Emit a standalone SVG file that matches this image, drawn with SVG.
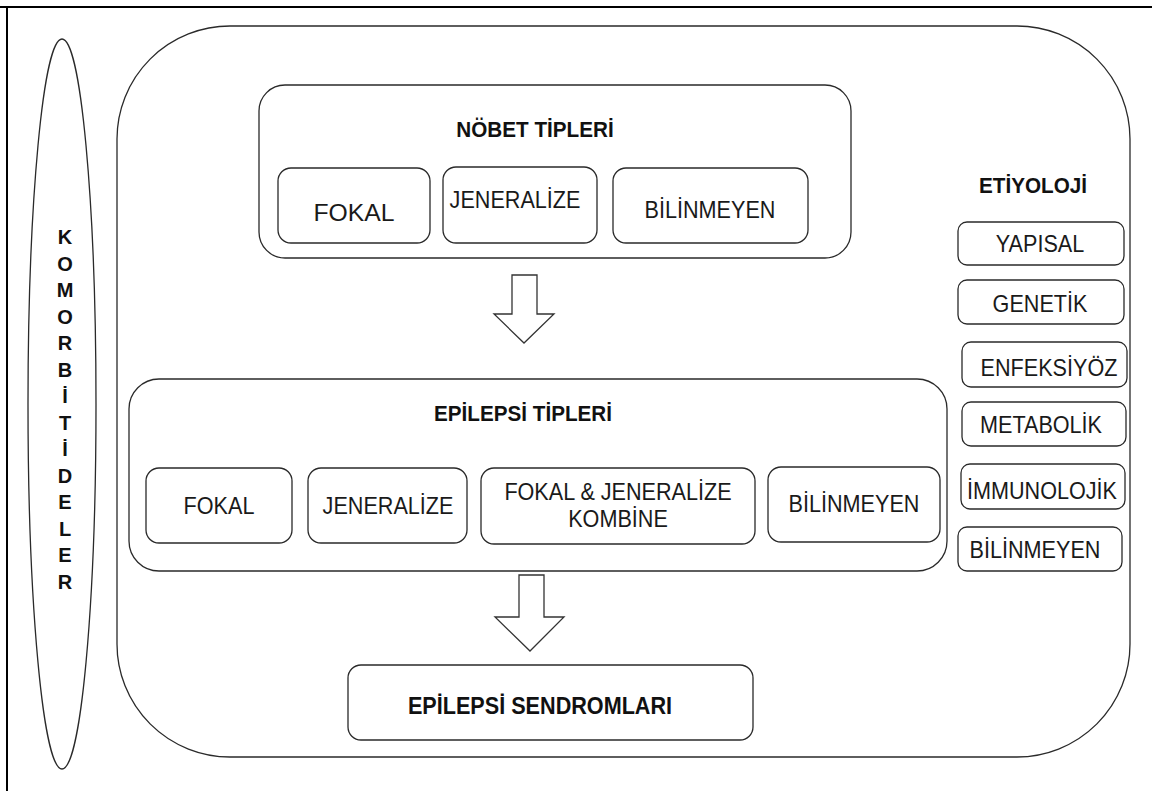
<svg xmlns="http://www.w3.org/2000/svg" width="1152" height="791" viewBox="0 0 1152 791">
<style>
  .box { fill: #fff; stroke: #2a2a2a; stroke-width: 1.3; }
  .t { font-family: "Liberation Sans", Arial, sans-serif; font-size: 24px; fill: #1a1a1a; text-anchor: middle; transform-box: fill-box; transform-origin: center; transform: scaleX(0.9); }
  .b { font-family: "Liberation Sans", Arial, sans-serif; font-weight: bold; font-size: 22px; fill: #111; text-anchor: middle; transform-box: fill-box; transform-origin: center; transform: scaleX(0.94); }
  .v { font-family: "Liberation Sans", Arial, sans-serif; font-weight: bold; font-size: 20px; fill: #111; text-anchor: middle; }
  .arrow { fill: #fff; stroke: #333; stroke-width: 1.3; }
</style>
<rect x="0" y="0" width="1152" height="791" fill="#fff"/>
<path d="M0 7 H1152 M7 7 V791" fill="none" stroke="#000" stroke-width="2"/>

<g id="komorbiditeler">
  <ellipse cx="62" cy="404" rx="34" ry="365" class="box"/>
  <text class="v" x="65" y="244">K</text>
  <text class="v" x="65" y="270.5">O</text>
  <text class="v" x="65" y="297">M</text>
  <text class="v" x="65" y="323.5">O</text>
  <text class="v" x="65" y="350">R</text>
  <text class="v" x="65" y="376.5">B</text>
  <text class="v" x="65" y="403">İ</text>
  <text class="v" x="65" y="429.5">T</text>
  <text class="v" x="65" y="456">İ</text>
  <text class="v" x="65" y="482.5">D</text>
  <text class="v" x="65" y="509">E</text>
  <text class="v" x="65" y="535.5">L</text>
  <text class="v" x="65" y="562">E</text>
  <text class="v" x="65" y="588.5">R</text>
</g>

<g id="main-frame">
  <rect x="117" y="26" width="1013" height="731" rx="113" ry="113" class="box"/>
</g>

<g id="nobet-tipleri">
  <rect x="259" y="85" width="592" height="173" rx="26" class="box"/>
  <text class="b" x="535" y="137">NÖBET TİPLERİ</text>
</g>
<g id="nobet-fokal">
  <rect x="278" y="168" width="152" height="75" rx="13" class="box"/>
  <text class="t" x="354" y="221" style="transform: scaleX(1.03)">FOKAL</text>
</g>
<g id="nobet-jeneralize">
  <rect x="443" y="167" width="154" height="76" rx="13" class="box"/>
  <text class="t" x="515" y="208">JENERALİZE</text>
</g>
<g id="nobet-bilinmeyen">
  <rect x="613" y="168" width="195" height="75" rx="13" class="box"/>
  <text class="t" x="710" y="218">BİLİNMEYEN</text>
</g>

<g id="epilepsi-tipleri">
  <rect x="129" y="379" width="818" height="192" rx="30" class="box"/>
  <text class="b" x="523" y="421">EPİLEPSİ TİPLERİ</text>
</g>
<g id="epilepsi-fokal">
  <rect x="146" y="468" width="146" height="75" rx="13" class="box"/>
  <text class="t" x="219" y="514">FOKAL</text>
</g>
<g id="epilepsi-jeneralize">
  <rect x="308" y="468" width="159" height="75" rx="13" class="box"/>
  <text class="t" x="388" y="514">JENERALİZE</text>
</g>
<g id="epilepsi-kombine">
  <rect x="481" y="468" width="274" height="76" rx="13" class="box"/>
  <text class="t" x="618" y="500">FOKAL &amp; JENERALİZE</text>
  <text class="t" x="618" y="527">KOMBİNE</text>
</g>
<g id="epilepsi-bilinmeyen">
  <rect x="768" y="467" width="172" height="75" rx="13" class="box"/>
  <text class="t" x="854" y="512">BİLİNMEYEN</text>
</g>

<g id="epilepsi-sendromlari">
  <rect x="348" y="665" width="405" height="75" rx="13" class="box"/>
  <text class="b" x="540" y="714" style="font-size:23px">EPİLEPSİ SENDROMLARI</text>
</g>

<g id="etiyoloji">
  <text class="b" x="1033" y="193">ETİYOLOJİ</text>
</g>
<g id="eti-yapisal">
  <rect x="958" y="222" width="166" height="43" rx="9" class="box"/>
  <text class="t" x="1040" y="252">YAPISAL</text>
</g>
<g id="eti-genetik">
  <rect x="958" y="280" width="166" height="44" rx="9" class="box"/>
  <text class="t" x="1040" y="312">GENETİK</text>
</g>
<g id="eti-enfeksiyoz">
  <rect x="962" y="342" width="165" height="45" rx="9" class="box"/>
  <text class="t" x="1049" y="376">ENFEKSİYÖZ</text>
</g>
<g id="eti-metabolik">
  <rect x="962" y="402" width="164" height="44" rx="9" class="box"/>
  <text class="t" x="1041" y="433">METABOLİK</text>
</g>
<g id="eti-immunolojik">
  <rect x="961" y="464" width="164" height="45" rx="9" class="box"/>
  <text class="t" x="1042" y="499">İMMUNOLOJİK</text>
</g>
<g id="eti-bilinmeyen">
  <rect x="958" y="527" width="164" height="44" rx="9" class="box"/>
  <text class="t" x="1035" y="558">BİLİNMEYEN</text>
</g>

<g id="connectors">
  <path class="arrow" d="M512 275 H537 V314 H554 L524 343 L494 314 H512 Z"/>
  <path class="arrow" d="M519 575 H544 V617 H564 L530 651 L495 617 H519 Z"/>
</g>
</svg>
